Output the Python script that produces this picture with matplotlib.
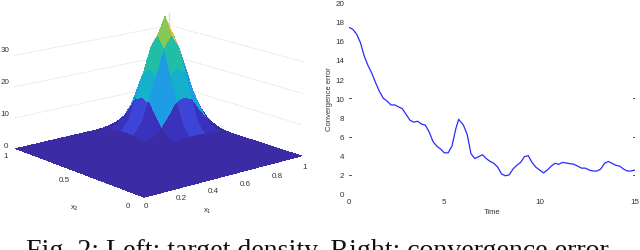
import numpy as np
import matplotlib
matplotlib.use('Agg')
import matplotlib.pyplot as plt
from matplotlib.colors import to_rgba
from mpl_toolkits.mplot3d import Axes3D

plt.rcParams['font.family'] = ['Liberation Sans', 'DejaVu Sans']

# left: density, fine grid only around the peak; rows are x2, columns are x1
grid = [0.0, 0.5, 0.55, 0.6, 0.65, 0.7, 0.75, 0.8, 0.85, 0.9, 0.95, 1.0]
density = [
    [0, 0, 0, 0, 0, 0, 0, 0, 0, 0, 0, 0],
    [0, 0, 0.01, 0.03, 0.08, 0.15, 0.25, 0.27, 0.25, 0.15, 0.08, 0.03],
    [0, 0.01, 0.03, 0.15, 0.35, 0.7, 1.0, 1.1, 1.0, 0.7, 0.35, 0.15],
    [0, 0.03, 0.15, 0.55, 1.4, 2.8, 4.2, 4.6, 4.2, 2.8, 1.4, 0.55],
    [0, 0.08, 0.35, 1.4, 3.6, 7, 11, 12, 11, 7, 3.6, 1.4],
    [0, 0.15, 0.7, 2.8, 7, 13, 19, 21, 19, 13, 7, 2.8],
    [0, 0.25, 1.0, 4.2, 11, 19, 27, 31, 27, 19, 11, 4.2],
    [0, 0.27, 1.1, 4.6, 12, 21, 31, 37, 31, 21, 12, 4.6],
    [0, 0.25, 1.0, 4.2, 11, 19, 27, 31, 27, 19, 11, 4.2],
    [0, 0.15, 0.7, 2.8, 7, 13, 19, 21, 19, 13, 7, 2.8],
    [0, 0.08, 0.35, 1.4, 3.6, 7, 11, 12, 11, 7, 3.6, 1.4],
    [0, 0.03, 0.15, 0.55, 1.4, 2.8, 4.2, 4.6, 4.2, 2.8, 1.4, 0.55],
]
band_edges = [1.5, 3, 5, 8, 12, 16, 25]
band_colors = ['#3b2ba4', '#3a32bc', '#3c45d8', '#3a62ea', '#2a80f0', '#1e9ce4', '#14b0cc', '#f0b634']

# right: convergence error
time = [0, 0.2, 0.4, 0.6, 0.8, 1.0, 1.2, 1.4, 1.6, 1.8, 2.0, 2.2, 2.4, 2.6, 2.8,
        3.0, 3.2, 3.4, 3.6, 3.8, 4.0, 4.2, 4.4, 4.6, 4.8, 5.0, 5.2, 5.4, 5.6, 5.75,
        6.0, 6.2, 6.4, 6.6, 6.8, 7.0, 7.2, 7.4, 7.6, 7.8, 8.0, 8.2, 8.4, 8.6, 8.8,
        9.0, 9.2, 9.4, 9.6, 9.8, 10.0, 10.2, 10.4, 10.6, 10.8, 11.0, 11.2, 11.5,
        11.8, 12.0, 12.2, 12.4, 12.6, 12.8, 13.0, 13.2, 13.4, 13.6, 13.8, 14.0,
        14.2, 14.4, 14.6, 14.8, 15.0]
error = [17.4, 17.2, 16.7, 15.8, 14.4, 13.4, 12.6, 11.6, 10.7, 10.0, 9.7, 9.3, 9.3, 9.1, 8.9,
         8.3, 7.7, 7.5, 7.6, 7.3, 7.2, 6.5, 5.5, 5.0, 4.7, 4.3, 4.3, 5.0, 6.8, 7.8,
         7.2, 6.2, 4.2, 3.7, 3.9, 4.1, 3.7, 3.4, 3.2, 2.8, 2.1, 1.9, 2.0, 2.6, 3.0,
         3.3, 3.9, 4.0, 3.3, 2.8, 2.5, 2.2, 2.5, 2.9, 3.2, 3.1, 3.3, 3.2,
         3.1, 2.9, 2.7, 2.7, 2.5, 2.4, 2.4, 2.6, 3.2, 3.4, 3.2, 3.0,
         2.9, 2.6, 2.4, 2.4, 2.5]

W, H = 640, 251
fig = plt.figure(figsize=(W / 100, H / 100), dpi=100)

# ---- left surface ----
ax3 = fig.add_axes([-0.06, 0.046, 0.6, 1.2], projection='3d')
X, Y = np.meshgrid(grid, grid)
Z = np.array(density, dtype=float)
g = np.array(grid)
mid = (g[:-1] + g[1:]) / 2
# facets take the colour of the 0.1 block they fall in
block = np.array([np.argmin(np.abs(g - round(m * 10) / 10)) if m > 0.5 else 0 for m in mid])
n = len(mid)
colors = np.zeros((n, n, 4))
for i in range(n):
    for j in range(n):
        v = Z[block[i], block[j]]
        colors[i, j] = to_rgba(band_colors[np.searchsorted(band_edges, v)])
        if 16 < v < 25 and Z[i:i + 2, j:j + 2].mean() > 20:
            colors[i, j] = to_rgba('#22bda5')
k = list(grid).index(0.75)
colors[k, k] = to_rgba('#86c855')
ax3.plot_surface(X, Y, Z, rstride=1, cstride=1, facecolors=colors,
                 shade=False, linewidth=0, antialiased=False)
for z in [10, 20, 30]:
    ax3.plot([0, 1, 1], [1, 1, 0], [z, z, z], color='#c8c8c8', lw=0.6, ls=':', zorder=0)
ax3.plot([1, 1], [1, 1], [0, 34], color='#dddddd', lw=1.0, zorder=0)
ax3.set_xlim(0, 1)
ax3.set_ylim(0, 1)
ax3.set_zlim(0, 44)
ax3.view_init(elev=15, azim=-130)
ax3.set_proj_type('persp', focal_length=1.2)
ax3.set_box_aspect((1, 1, 0.70), zoom=1.04)
ax3.set_axis_off()

labels3d = [('30', 5, 51), ('20', 5, 83), ('10', 5, 115), ('0', 6, 146), ('1', 6, 156),
            ('0.5', 64, 181), ('0', 128, 207), ('0', 146, 207), ('0.2', 181, 199),
            ('0.4', 213, 192), ('0.6', 245, 184), ('0.8', 277, 176), ('1', 305, 168)]
for s, px, py in labels3d:
    fig.text(px / W, 1 - py / H, s, fontsize=5.8, color='#333333', ha='center', va='center')
fig.text(74 / W, 1 - 208 / H, 'x$_2$', fontsize=5.5, color='#333333', ha='center', va='center')
fig.text(207 / W, 1 - 211 / H, 'x$_1$', fontsize=5.5, color='#333333', ha='center', va='center')

# ---- right curve ----
ax = fig.add_axes([349 / W, 1 - 195 / H, 286 / W, 191.5 / H])
ax.plot(time, error, color='#2a2aff', lw=0.9)
ax.set_xlim(0, 15)
ax.set_ylim(0, 20)
ax.set_xticks([0, 5, 10, 15])
ax.set_yticks(range(0, 21, 2))
ax.tick_params(axis='both', length=0, labelsize=5.8, labelcolor='#333333', pad=3.2)
for y in [2, 6, 10]:
    ax.plot([0, 0.13], [y, y], color='#333333', lw=0.6)
    ax.plot([14.87, 15], [y, y], color='#333333', lw=0.6)
for side in ax.spines.values():
    side.set_visible(False)
ax.patch.set_alpha(0)
ax.set_xlabel('Time', fontsize=5.5, color='#333333', labelpad=1.5)
ax.set_ylabel('Convergence error', fontsize=5.5, color='#333333', labelpad=2)

# caption, cut by the bottom of the image
fig.text(26 / W, 1 - 258 / H, 'Fig. 2: Left: target density. Right: convergence error.',
         family=['Liberation Serif'], fontsize=20.1, color='#111111', ha='left', va='baseline')

fig.savefig('out.png', dpi=100)
